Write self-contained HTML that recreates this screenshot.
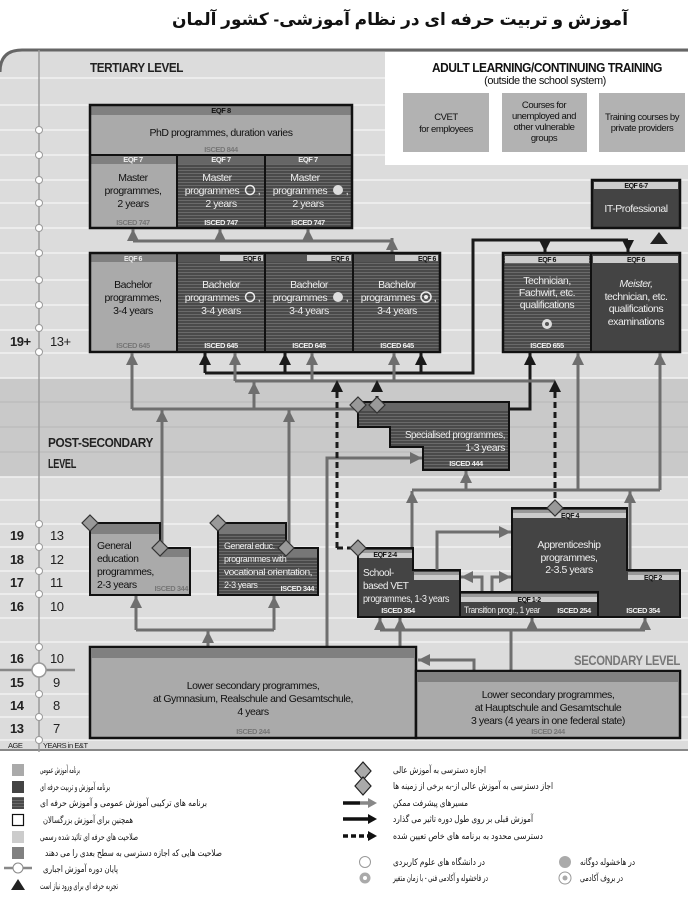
<!DOCTYPE html>
<html><head><meta charset="utf-8"><style>
body{margin:0;background:#fff}
svg{display:block;font-family:"Liberation Sans",sans-serif}
svg text{letter-spacing:-0.45px}
.fa{font-family:"Liberation Sans","DejaVu Sans","Noto Sans CJK SC",sans-serif;letter-spacing:0}
</style></head><body>
<svg width="688" height="900" viewBox="0 0 688 900" xmlns="http://www.w3.org/2000/svg">
<defs>
<pattern id="st" width="4" height="3" patternUnits="userSpaceOnUse"><rect width="4" height="3" fill="#4a4a4a"/><rect y="2" width="4" height="1" fill="#6a6a6a"/></pattern>
<marker id="ag" viewBox="0 0 10 10" refX="10" refY="5" markerWidth="12" markerHeight="12" markerUnits="userSpaceOnUse" orient="auto"><path d="M0,0 L10,5 L0,10z" fill="#6e6e6e"/></marker>
<marker id="ab" viewBox="0 0 10 10" refX="10" refY="5" markerWidth="12" markerHeight="12" markerUnits="userSpaceOnUse" orient="auto"><path d="M0,0 L10,5 L0,10z" fill="#1a1a1a"/></marker>
</defs>

<text x="400" y="25" text-anchor="middle" class="fa" font-size="17" font-weight="bold" fill="#111">آموزش و تربیت حرفه ای در نظام آموزشی- کشور آلمان</text>

<!-- background -->
<path d="M0,72 Q0,50 22,50 L688,50 L688,750 L0,750Z" fill="#dcdcdc"/>
<rect x="0" y="378" width="688" height="99" fill="#c9c9c9"/>
<g stroke="#f2f2f2" stroke-width="1.5">
<line x1="0" y1="78" x2="688" y2="78"/><line x1="0" y1="105" x2="688" y2="105"/><line x1="0" y1="130" x2="688" y2="130"/><line x1="0" y1="155" x2="688" y2="155"/><line x1="0" y1="180" x2="688" y2="180"/><line x1="0" y1="203" x2="688" y2="203"/><line x1="0" y1="228" x2="688" y2="228"/><line x1="0" y1="253" x2="688" y2="253"/><line x1="0" y1="280" x2="688" y2="280"/><line x1="0" y1="305" x2="688" y2="305"/><line x1="0" y1="330" x2="688" y2="330"/><line x1="0" y1="353" x2="688" y2="353"/>
<line x1="0" y1="378" x2="688" y2="378"/><line x1="0" y1="477" x2="688" y2="477"/>
<line x1="0" y1="500" x2="688" y2="500"/><line x1="0" y1="524" x2="688" y2="524"/><line x1="0" y1="547" x2="688" y2="547"/><line x1="0" y1="571" x2="688" y2="571"/><line x1="0" y1="594" x2="688" y2="594"/><line x1="0" y1="618" x2="688" y2="618"/><line x1="0" y1="642" x2="688" y2="642"/><line x1="0" y1="694" x2="688" y2="694"/><line x1="0" y1="717" x2="688" y2="717"/><line x1="0" y1="740" x2="688" y2="740"/>
</g>
<g stroke="#b8b8b8" stroke-width="1"><line x1="0" y1="402" x2="688" y2="402"/><line x1="0" y1="427" x2="688" y2="427"/><line x1="0" y1="452" x2="688" y2="452"/></g>
<path d="M0,72 Q0,50 22,50 L688,50" fill="none" stroke="#666" stroke-width="3"/>
<line x1="0" y1="750" x2="688" y2="750" stroke="#888" stroke-width="2"/>
<line x1="39" y1="50" x2="39" y2="752" stroke="#999" stroke-width="1.5"/>
<line x1="0" y1="670" x2="75" y2="670" stroke="#888" stroke-width="2.5"/>
<g fill="#fff" stroke="#999" stroke-width="1">
<circle cx="39" cy="130" r="3.5"/><circle cx="39" cy="155" r="3.5"/><circle cx="39" cy="180" r="3.5"/><circle cx="39" cy="203" r="3.5"/><circle cx="39" cy="228" r="3.5"/><circle cx="39" cy="253" r="3.5"/><circle cx="39" cy="280" r="3.5"/><circle cx="39" cy="305" r="3.5"/><circle cx="39" cy="328" r="3.5"/><circle cx="39" cy="352" r="3.5"/>
<circle cx="39" cy="524" r="3.5"/><circle cx="39" cy="547" r="3.5"/><circle cx="39" cy="571" r="3.5"/><circle cx="39" cy="594" r="3.5"/><circle cx="39" cy="647" r="3.5"/><circle cx="39" cy="694" r="3.5"/><circle cx="39" cy="717" r="3.5"/><circle cx="39" cy="740" r="3.5"/>
<circle cx="39" cy="670" r="7" stroke-width="1.5"/>
</g>

<!-- age labels -->
<g font-size="13" fill="#222">
<text x="10" y="346" font-weight="bold">19+</text><text x="50" y="346">13+</text>
<text x="10" y="540" font-weight="bold">19</text><text x="50" y="540">13</text>
<text x="10" y="564" font-weight="bold">18</text><text x="50" y="564">12</text>
<text x="10" y="587" font-weight="bold">17</text><text x="50" y="587">11</text>
<text x="10" y="611" font-weight="bold">16</text><text x="50" y="611">10</text>
<text x="10" y="663" font-weight="bold">16</text><text x="50" y="663">10</text>
<text x="10" y="687" font-weight="bold">15</text><text x="53" y="687">9</text>
<text x="10" y="710" font-weight="bold">14</text><text x="53" y="710">8</text>
<text x="10" y="733" font-weight="bold">13</text><text x="53" y="733">7</text>
</g>
<text x="8" y="748" font-size="7.5" fill="#222">AGE</text><text x="43" y="748" font-size="7.5" fill="#222">YEARS in E&amp;T</text>

<text x="90" y="72" font-size="13" font-weight="bold" fill="#222" textLength="93" lengthAdjust="spacingAndGlyphs">TERTIARY LEVEL</text>
<text x="48" y="447" font-size="13" font-weight="bold" fill="#222" textLength="105" lengthAdjust="spacingAndGlyphs">POST-SECONDARY</text>
<text x="48" y="468" font-size="13" font-weight="bold" fill="#222" textLength="28" lengthAdjust="spacingAndGlyphs">LEVEL</text>
<text x="680" y="665" text-anchor="end" font-size="14" font-weight="bold" fill="#777" textLength="106" lengthAdjust="spacingAndGlyphs">SECONDARY LEVEL</text>

<!-- Adult learning -->
<rect x="385" y="52" width="303" height="113" fill="#fff"/>
<text x="432" y="72" font-size="12.5" font-weight="bold" fill="#111" textLength="230" lengthAdjust="spacingAndGlyphs">ADULT LEARNING/CONTINUING TRAINING</text>
<text x="545" y="84" text-anchor="middle" font-size="11" fill="#111">(outside the school system)</text>
<g fill="#b2b2b2"><rect x="403" y="93" width="86" height="59"/><rect x="502" y="93" width="85" height="59"/><rect x="599" y="93" width="86" height="59"/></g>
<g font-size="9.5" fill="#111" text-anchor="middle">
<text x="446" y="120">CVET</text><text x="446" y="132">for employees</text>
<text x="544" y="108">Courses for</text><text x="544" y="119">unemployed and</text><text x="544" y="130">other vulnerable</text><text x="544" y="141">groups</text>
<text x="642" y="120">Training courses by</text><text x="642" y="131">private providers</text>
</g>

<!-- PhD & Master -->
<rect x="90" y="105" width="262" height="50" fill="#aaa"/>
<rect x="90" y="105" width="262" height="10" fill="#808080"/>
<rect x="90" y="155" width="87" height="73" fill="#aaa"/>
<rect x="90" y="155" width="87" height="9" fill="#808080"/>
<rect x="177" y="155" width="175" height="73" fill="url(#st)"/>
<rect x="177" y="155" width="175" height="9" fill="#666"/>
<rect x="90" y="105" width="262" height="123" fill="none" stroke="#111" stroke-width="2.5"/>
<g stroke="#111" stroke-width="2"><line x1="90" y1="155" x2="352" y2="155"/><line x1="177" y1="155" x2="177" y2="228"/><line x1="265" y1="155" x2="265" y2="228"/></g>
<text x="221" y="113" text-anchor="middle" font-size="7.5" font-weight="bold" fill="#111">EQF 8</text>
<text x="221" y="136" text-anchor="middle" font-size="10.5" fill="#111">PhD programmes, duration varies</text>
<text x="221" y="152" text-anchor="middle" font-size="7.5" font-weight="bold" fill="#777">ISCED 844</text>
<g font-size="7.5" font-weight="bold" fill="#eee" text-anchor="middle"><text x="133" y="162">EQF 7</text><text x="221" y="162">EQF 7</text><text x="308" y="162">EQF 7</text></g>
<g font-size="10.5" text-anchor="middle">
<g fill="#111"><text x="133" y="181">Master</text><text x="133" y="194">programmes,</text><text x="133" y="207">2 years</text></g>
<g fill="#eee"><text x="217" y="181">Master</text><text x="212" y="194">programmes</text><text x="221" y="207">2 years</text>
<text x="305" y="181">Master</text><text x="300" y="194">programmes</text><text x="308" y="207">2 years</text>
<text x="259" y="194">,</text><text x="347" y="194">,</text></g>
</g>
<circle cx="250" cy="190" r="4.5" fill="none" stroke="#eee" stroke-width="1.5"/>
<circle cx="338" cy="190" r="5" fill="#ddd"/>
<g font-size="7.5" font-weight="bold" text-anchor="middle"><text x="133" y="225" fill="#777">ISCED 747</text><text x="221" y="225" fill="#eee">ISCED 747</text><text x="308" y="225" fill="#eee">ISCED 747</text></g>

<!-- master arrows -->
<path d="M133,241 H392" fill="none" stroke="#6e6e6e" stroke-width="3"/>
<path d="M133,241 V229" stroke="#6e6e6e" stroke-width="3" marker-end="url(#ag)"/>
<path d="M220,241 V229" stroke="#6e6e6e" stroke-width="3" marker-end="url(#ag)"/>
<path d="M308,241 V229" stroke="#6e6e6e" stroke-width="3" marker-end="url(#ag)"/>
<path d="M392,253 V238" stroke="#6e6e6e" stroke-width="3" marker-end="url(#ag)"/>

<!-- Bachelor -->
<rect x="90" y="253" width="87" height="99" fill="#aaa"/>
<rect x="90" y="253" width="87" height="9" fill="#808080"/>
<rect x="177" y="253" width="263" height="99" fill="url(#st)"/>
<rect x="177" y="253" width="263" height="9" fill="#555"/>
<g fill="#ccc"><rect x="220" y="255" width="43" height="6"/><rect x="307" y="255" width="44" height="6"/><rect x="395" y="255" width="43" height="6"/></g>
<rect x="90" y="253" width="350" height="99" fill="none" stroke="#111" stroke-width="2.5"/>
<g stroke="#111" stroke-width="2"><line x1="177" y1="253" x2="177" y2="352"/><line x1="265" y1="253" x2="265" y2="352"/><line x1="353" y1="253" x2="353" y2="352"/></g>
<g font-size="7" font-weight="bold" fill="#111"><text x="133" y="261" text-anchor="middle" fill="#eee">EQF 6</text><text x="261" y="261" text-anchor="end">EQF 6</text><text x="349" y="261" text-anchor="end">EQF 6</text><text x="436" y="261" text-anchor="end">EQF 6</text></g>
<g font-size="10.5" text-anchor="middle">
<g fill="#111"><text x="133" y="288">Bachelor</text><text x="133" y="301">programmes,</text><text x="133" y="314">3-4 years</text></g>
<g fill="#eee"><text x="221" y="288">Bachelor</text><text x="212" y="301">programmes</text><text x="221" y="314">3-4 years</text>
<text x="309" y="288">Bachelor</text><text x="300" y="301">programmes</text><text x="309" y="314">3-4 years</text>
<text x="397" y="288">Bachelor</text><text x="388" y="301">programmes</text><text x="397" y="314">3-4 years</text>
<text x="259" y="301">,</text><text x="347" y="301">,</text><text x="435" y="301">,</text></g>
</g>
<circle cx="250" cy="297" r="4.5" fill="none" stroke="#eee" stroke-width="1.5"/>
<circle cx="338" cy="297" r="5" fill="#ddd"/>
<circle cx="426" cy="297" r="5" fill="none" stroke="#eee" stroke-width="1.5"/><circle cx="426" cy="297" r="2" fill="#eee"/>
<g font-size="7.5" font-weight="bold" text-anchor="middle"><text x="133" y="348" fill="#777">ISCED 645</text><text x="221" y="348" fill="#eee">ISCED 645</text><text x="309" y="348" fill="#eee">ISCED 645</text><text x="397" y="348" fill="#eee">ISCED 645</text></g>

<!-- IT professional -->
<rect x="592" y="180" width="88" height="48" fill="#444" stroke="#111" stroke-width="2.5"/>
<rect x="594" y="182" width="84" height="7" fill="#ccc"/>
<text x="636" y="188" text-anchor="middle" font-size="7" font-weight="bold" fill="#111">EQF 6-7</text>
<text x="636" y="212" text-anchor="middle" font-size="10.5" fill="#eee">IT-Professional</text>
<path d="M659,232 L668,244 L650,244Z" fill="#222"/>

<!-- Technician / Meister -->
<rect x="503" y="253" width="88" height="99" fill="url(#st)"/>
<rect x="591" y="253" width="89" height="99" fill="#444"/>
<rect x="505" y="256" width="84" height="7" fill="#ccc"/>
<rect x="593" y="256" width="85" height="7" fill="#ccc"/>
<rect x="503" y="253" width="177" height="99" fill="none" stroke="#111" stroke-width="2.5"/>
<line x1="591" y1="253" x2="591" y2="352" stroke="#111" stroke-width="2"/>
<g font-size="7" font-weight="bold" fill="#111" text-anchor="middle"><text x="547" y="262">EQF 6</text><text x="636" y="262">EQF 6</text></g>
<g font-size="10.5" fill="#eee" text-anchor="middle">
<text x="547" y="284">Technician,</text><text x="547" y="296">Fachwirt, etc.</text><text x="547" y="308">qualifications</text>
<text x="636" y="287" font-style="italic">Meister,</text><text x="636" y="300">technician, etc.</text><text x="636" y="312">qualifications</text><text x="636" y="325">examinations</text>
</g>
<circle cx="547" cy="324" r="5" fill="#ddd"/><circle cx="547" cy="324" r="2" fill="#555"/>
<text x="547" y="348" text-anchor="middle" font-size="7.5" font-weight="bold" fill="#eee">ISCED 655</text>

<!-- black connectors -->
<path d="M205,373 H473 V240 H628" fill="none" stroke="#1a1a1a" stroke-width="3"/>
<path d="M545,240 V252" stroke="#1a1a1a" stroke-width="3" marker-end="url(#ab)"/>
<path d="M628,240 V252" stroke="#1a1a1a" stroke-width="3" marker-end="url(#ab)"/>
<g stroke="#1a1a1a" stroke-width="3">
<path d="M205,373 V353" marker-end="url(#ab)"/><path d="M285,373 V353" marker-end="url(#ab)"/><path d="M421,373 V353" marker-end="url(#ab)"/>
<path d="M509,409 H530 V353" fill="none" marker-end="url(#ab)"/>
</g>
<!-- gray connectors -->
<g stroke="#6e6e6e" stroke-width="3" fill="none">
<path d="M235,381 H555"/>
<path d="M235,381 V353" marker-end="url(#ag)"/><path d="M312,381 V353" marker-end="url(#ag)"/><path d="M394,381 V353" marker-end="url(#ag)"/>
<path d="M132,409 H358"/>
<path d="M132,409 V353" marker-end="url(#ag)"/>
<path d="M254,409 V382" marker-end="url(#ag)"/>
<path d="M162,548 V410" marker-end="url(#ag)"/>
<path d="M289,548 V410" marker-end="url(#ag)"/>
<path d="M327,647 V458 H422" marker-end="url(#ag)"/>
<path d="M412,490 H660"/>
<path d="M412,570 V491" marker-end="url(#ag)"/>
<path d="M630,570 V491" marker-end="url(#ag)"/>
<path d="M466,490 V471" marker-end="url(#ag)"/>
<path d="M578,490 V353" marker-end="url(#ag)"/>
<path d="M660,490 V353" marker-end="url(#ag)"/>
</g>
<!-- dashed -->
<g stroke="#1a1a1a" stroke-width="3" fill="none" stroke-dasharray="6,4">
<path d="M337,548 V392"/><path d="M377,402 V392"/><path d="M555,508 V392"/><path d="M337,548 H358"/>
</g>
<g fill="#1a1a1a"><path d="M337,380 L331,392 L343,392Z"/><path d="M377,380 L371,392 L383,392Z"/><path d="M555,380 L549,392 L561,392Z"/></g>

<!-- Specialised -->
<path d="M358,402 H509 V470 H423 V447 H390 V427 H358Z" fill="url(#st)" stroke="#111" stroke-width="2"/>
<rect x="359" y="403" width="149" height="8" fill="#666"/>
<text x="505" y="438" text-anchor="end" font-size="10.5" fill="#eee" textLength="100" lengthAdjust="spacingAndGlyphs">Specialised  programmes,</text>
<text x="505" y="451" text-anchor="end" font-size="10.5" fill="#eee">1-3 years</text>
<text x="466" y="466" text-anchor="middle" font-size="7.5" font-weight="bold" fill="#eee">ISCED 444</text>
<g fill="#999" stroke="#333" stroke-width="1.2"><path d="M358,397 L366,405 L358,413 L350,405Z"/><path d="M377,397 L385,405 L377,413 L369,405Z"/></g>

<!-- General education boxes -->
<path d="M90,523 H160 V548 H190 V595 H90Z" fill="#aaa" stroke="#111" stroke-width="2"/>
<path d="M91,524 H159 V534 H91Z" fill="#808080"/><rect x="160" y="549" width="29" height="8" fill="#808080"/>
<path d="M218,523 H286 V548 H318 V595 H218Z" fill="url(#st)" stroke="#111" stroke-width="2"/>
<path d="M219,524 H285 V534 H219Z" fill="#777"/><rect x="286" y="549" width="31" height="8" fill="#777"/>
<g font-size="10.5" fill="#111"><text x="97" y="549">General</text><text x="97" y="562">education</text><text x="97" y="575">programmes,</text><text x="97" y="588">2-3 years</text></g>
<text x="188" y="591" text-anchor="end" font-size="7.5" font-weight="bold" fill="#777">ISCED 344</text>
<g font-size="9" fill="#eee"><text x="224" y="549">General educ.</text><text x="224" y="562">programmes with</text><text x="224" y="575" textLength="88" lengthAdjust="spacingAndGlyphs">vocational orientation,</text><text x="224" y="588">2-3 years</text></g>
<text x="314" y="591" text-anchor="end" font-size="7.5" font-weight="bold" fill="#eee">ISCED 344</text>
<g fill="#999" stroke="#333" stroke-width="1.2"><path d="M90,515 L98,523 L90,531 L82,523Z"/><path d="M160,540 L168,548 L160,556 L152,548Z"/><path d="M218,515 L226,523 L218,531 L210,523Z"/><path d="M286,540 L294,548 L286,556 L278,548Z"/></g>

<!-- VET group -->
<path d="M358,548 H413 V570 H460 V617 H358Z" fill="#444" stroke="#111" stroke-width="2"/>
<rect x="359" y="550" width="53" height="3" fill="#999"/><rect x="359" y="553" width="53" height="5" fill="#ccc"/>
<rect x="414" y="572" width="45" height="3" fill="#999"/><rect x="414" y="575" width="45" height="5" fill="#ccc"/>
<path d="M512,508 H627 V570 H680 V617 H598 V592 H512Z" fill="#444" stroke="#111" stroke-width="2"/>
<rect x="513" y="510" width="113" height="3" fill="#999"/><rect x="513" y="513" width="113" height="5" fill="#ccc"/>
<rect x="628" y="572" width="51" height="3" fill="#999"/><rect x="628" y="575" width="51" height="5" fill="#ccc"/>
<rect x="460" y="592" width="138" height="25" fill="#444" stroke="#111" stroke-width="2"/>
<rect x="461" y="594" width="136" height="3" fill="#999"/><rect x="461" y="597" width="136" height="5" fill="#ccc"/>
<g font-size="7" font-weight="bold" fill="#111"><text x="385" y="557" text-anchor="middle">EQF 2-4</text><text x="570" y="518" text-anchor="middle">EQF 4</text><text x="653" y="580" text-anchor="middle">EQF 2</text><text x="529" y="602" text-anchor="middle">EQF 1-2</text></g>
<g font-size="10" fill="#eee"><text x="363" y="576">School-</text><text x="363" y="589">based VET</text><text x="363" y="602" textLength="86" lengthAdjust="spacingAndGlyphs">programmes, 1-3 years</text></g>
<g font-size="10.5" fill="#eee" text-anchor="middle"><text x="569" y="548">Apprenticeship</text><text x="569" y="561">programmes,</text><text x="569" y="573">2-3.5 years</text></g>
<text x="464" y="613" font-size="9" fill="#eee" textLength="76" lengthAdjust="spacingAndGlyphs">Transition progr., 1 year</text>
<g font-size="7.5" font-weight="bold" fill="#eee" text-anchor="middle"><text x="398" y="613">ISCED 354</text><text x="574" y="613">ISCED 254</text><text x="643" y="613">ISCED 354</text></g>
<g fill="#999" stroke="#333" stroke-width="1.2"><path d="M358,540 L366,548 L358,556 L350,548Z"/><path d="M555,500 L563,508 L555,516 L547,508Z"/></g>
<g stroke="#6e6e6e" stroke-width="3" fill="none">
<path d="M437,570 V532 H511" marker-end="url(#ag)"/>
<path d="M482,591 V577 H461" marker-end="url(#ag)"/>
<path d="M492,591 V577 H511" marker-end="url(#ag)"/>
<path d="M208,647 V630 M136,630 H274" />
<path d="M208,647 V631" marker-end="url(#ag)"/>
<path d="M136,630 V596" marker-end="url(#ag)"/>
<path d="M274,630 V596" marker-end="url(#ag)"/>
<path d="M511,671 V630 M380,630 H645"/>
<path d="M380,630 V618" marker-end="url(#ag)"/><path d="M532,630 V618" marker-end="url(#ag)"/><path d="M645,630 V618" marker-end="url(#ag)"/>
<path d="M400,647 V618" marker-end="url(#ag)"/>
<path d="M474,671 V660 H418" marker-end="url(#ag)"/>
</g>

<!-- Lower secondary -->
<rect x="90" y="647" width="326" height="91" fill="#aaa" stroke="#111" stroke-width="2.5"/>
<rect x="91" y="648" width="324" height="10" fill="#808080"/>
<rect x="416" y="671" width="264" height="67" fill="#aaa" stroke="#111" stroke-width="2.5"/>
<rect x="417" y="672" width="262" height="10" fill="#808080"/>
<g font-size="10.5" fill="#111" text-anchor="middle">
<text x="253" y="689">Lower secondary programmes,</text><text x="253" y="702">at Gymnasium, Realschule and Gesamtschule,</text><text x="253" y="715">4 years</text>
<text x="548" y="698">Lower secondary programmes,</text><text x="548" y="711">at Hauptschule and Gesamtschule</text><text x="548" y="724">3 years (4 years in one federal state)</text>
</g>
<g font-size="7.5" font-weight="bold" fill="#777" text-anchor="middle"><text x="253" y="734">ISCED 244</text><text x="548" y="734">ISCED 244</text></g>

<!-- Legend -->
<rect x="12" y="764" width="12" height="12" fill="#aaa"/>
<rect x="12" y="781" width="12" height="12" fill="#444"/>
<rect x="12" y="797" width="12" height="12" fill="url(#st)"/>
<rect x="12.5" y="814.5" width="11" height="11" fill="#fff" stroke="#111" stroke-width="1.2"/>
<rect x="12" y="831" width="12" height="12" fill="#ccc"/>
<rect x="12" y="847" width="12" height="12" fill="#808080"/>
<line x1="4" y1="868" x2="32" y2="868" stroke="#888" stroke-width="2.5"/><circle cx="18" cy="868" r="5" fill="#fff" stroke="#888"/>
<path d="M18,879 L25,890 L11,890Z" fill="#222"/>
<g class="fa" font-size="9" fill="#111">
<text x="40" y="773" textLength="40" lengthAdjust="spacingAndGlyphs">برنامه آموزش عمومی</text>
<text x="40" y="790" textLength="70" lengthAdjust="spacingAndGlyphs">برنامه آموزش و تربیت حرفه ای</text>
<text x="40" y="806" textLength="167" lengthAdjust="spacingAndGlyphs">برنامه های ترکیبی آموزش عمومی و آموزش حرفه ای</text>
<text x="43" y="823" textLength="90" lengthAdjust="spacingAndGlyphs">همچنین برای آموزش بزرگسالان</text>
<text x="40" y="840" textLength="98" lengthAdjust="spacingAndGlyphs">صلاحیت های حرفه ای تائید شده رسمی</text>
<text x="45" y="856" textLength="177" lengthAdjust="spacingAndGlyphs">صلاحیت هایی که اجازه دسترسی به سطح بعدی را می دهند</text>
<text x="43" y="872" textLength="75" lengthAdjust="spacingAndGlyphs">پایان دوره آموزش اجباری</text>
<text x="40" y="889" textLength="78" lengthAdjust="spacingAndGlyphs">تجربه حرفه ای برای ورود نیاز است</text>
<text x="393" y="773" textLength="93" lengthAdjust="spacingAndGlyphs">اجازه دسترسی به آموزش عالی</text>
<text x="393" y="789" textLength="160" lengthAdjust="spacingAndGlyphs">اجاز دسترسی به آموزش عالی از-به برخی از زمینه ها</text>
<text x="393" y="806" textLength="75" lengthAdjust="spacingAndGlyphs">مسیرهای پیشرفت ممکن</text>
<text x="393" y="822" textLength="140" lengthAdjust="spacingAndGlyphs">آموزش قبلی بر روی طول دوره تاثیر می گذارد</text>
<text x="393" y="839" textLength="150" lengthAdjust="spacingAndGlyphs">دسترسی محدود به برنامه های خاص تعیین شده</text>
<text x="393" y="865" textLength="92" lengthAdjust="spacingAndGlyphs">در دانشگاه های علوم کاربردی</text>
<text x="393" y="881" textLength="95" lengthAdjust="spacingAndGlyphs">در فاخشوله و آکادمی فنی - با زمان متغیر</text>
<text x="580" y="865" textLength="55" lengthAdjust="spacingAndGlyphs">در هاخشوله دوگانه</text>
<text x="580" y="881" textLength="43" lengthAdjust="spacingAndGlyphs">در بروف آکادمی</text>
</g>
<g fill="#aaa" stroke="#222" stroke-width="1.2"><path d="M363,762 L371,771 L363,780 L355,771Z"/><path d="M363,777 L371,786 L363,795 L355,786Z"/></g>
<path d="M343,803 H360" stroke="#111" stroke-width="3.5"/><path d="M360,803 H368" stroke="#888" stroke-width="3.5"/><path d="M368,798 L377,803 L368,808Z" fill="#888"/>
<path d="M343,819 H368" stroke="#111" stroke-width="3.5"/><path d="M368,814 L377,819 L368,824Z" fill="#111"/>
<path d="M343,836 H368" stroke="#111" stroke-width="3.5" stroke-dasharray="5,3"/><path d="M368,831 L377,836 L368,841Z" fill="#111"/>
<circle cx="365" cy="862" r="5.5" fill="#fff" stroke="#999"/>
<circle cx="365" cy="878" r="5.5" fill="#aaa"/><circle cx="365" cy="878" r="2" fill="#fff"/>
<circle cx="565" cy="862" r="6" fill="#aaa"/>
<circle cx="565" cy="878" r="6" fill="#fff" stroke="#999"/><circle cx="565" cy="878" r="2.5" fill="#aaa"/>
</svg>
</body></html>
